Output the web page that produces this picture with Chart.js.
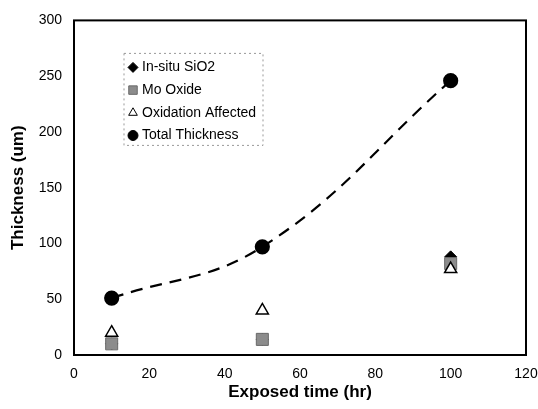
<!DOCTYPE html>
<html>
<head>
<meta charset="utf-8">
<script src="https://cdn.jsdelivr.net/npm/chart.js@4"></script>
<style>
  html, body { margin:0; padding:0; background:#fff; }
  #wrap { width:538px; height:409px; }
</style>
</head>
<body>
<div id="wrap"><canvas id="chart" width="538" height="409"></canvas></div>
<script>
const times = [10, 50, 100];
const insituSiO2 = [10, 14, 88];
const moOxide = [10, 14, 82];
const oxidationAffected = [20, 40, 77];
const totalThickness = [51, 97, 246];
const seriesNames = ["In-situ SiO2", "Mo Oxide", "Oxidation Affected", "Total Thickness"];

const pts = vals => vals.map((v, i) => ({ x: times[i], y: v }));
const FONT = "'Liberation Sans', Arial, sans-serif";

// box round the plot
const frame = {
  id: "frame",
  afterDatasetsDraw(chart){
    const { ctx, chartArea: a } = chart;
    ctx.save();
    ctx.strokeStyle = "#000";
    ctx.lineWidth = 2;
    ctx.strokeRect(a.left, a.top, a.right - a.left, a.bottom - a.top);
    ctx.restore();
  }
};

// legend floating inside the plot
const legendSize = { rectRot: 5, rect: 6, triangle: 5, circle: 5 };
const innerLegend = {
  id: "innerLegend",
  afterDraw(chart){
    const { ctx, chartArea: a } = chart;
    const x0 = a.left + 50, y0 = a.top + 33, w = 139, h = 92;
    ctx.save();
    ctx.strokeStyle = "#999";
    ctx.lineWidth = 1;
    ctx.setLineDash([2, 3]);
    ctx.strokeRect(x0, y0, w, h);
    ctx.setLineDash([]);
    ctx.font = "14px " + FONT;
    ctx.textBaseline = "middle";
    chart.data.datasets.forEach((ds, i) => {
      const y = y0 + 14 + i * 22.7;
      ctx.fillStyle = ds.pointBackgroundColor;
      ctx.strokeStyle = ds.pointBorderColor;
      Chart.helpers.drawPoint(ctx, { pointStyle: ds.pointStyle, radius: legendSize[ds.pointStyle], rotation: 0, borderWidth: 1 }, x0 + 9, y);
      ctx.fillStyle = "#000";
      ctx.fillText(ds.label, x0 + 18, y);
    });
    ctx.restore();
  }
};

new Chart(document.getElementById("chart"), {
  type: "scatter",
  data: {
    datasets: [
      { label: seriesNames[0], data: pts(insituSiO2), order: 4, pointStyle: "rectRot", pointRadius: 6,
        pointBackgroundColor: "#000", pointBorderColor: "#000", borderWidth: 1 },
      { label: seriesNames[1], data: pts(moOxide), order: 3, pointStyle: "rect", pointRadius: 8.5,
        pointBackgroundColor: "#8c8c8c", pointBorderColor: "#6a6a6a", borderWidth: 1 },
      { label: seriesNames[2], data: pts(oxidationAffected), order: 2, pointStyle: "triangle", pointRadius: 7,
        pointBackgroundColor: "#fff", pointBorderColor: "#000", pointBorderWidth: 1.5 },
      { label: seriesNames[3], data: pts(totalThickness), order: 1, pointStyle: "circle", pointRadius: 6.5,
        pointBackgroundColor: "#000", pointBorderColor: "#000",
        showLine: true, borderColor: "#000", borderWidth: 2.2, borderDash: [12, 8], tension: 0.4 }
    ]
  },
  options: {
    responsive: false,
    animation: false,
    layout: { padding: { top: 16, right: 0, left: 0, bottom: 0 } },
    plugins: { legend: { display: false }, tooltip: { enabled: false } },
    scales: {
      x: {
        type: "linear", min: 0, max: 120,
        ticks: { stepSize: 20, padding: 11, color: "#000", font: { family: FONT, size: 14 } },
        grid: { display: false, drawTicks: false },
        border: { display: false },
        title: { display: true, text: "Exposed time (hr)", color: "#000", padding: { top: 0, bottom: 6 },
                 font: { family: FONT, size: 17, weight: "bold" } },
        afterFit: s => { s.height = 54; s.paddingRight = 12; }
      },
      y: {
        min: 0, max: 300,
        ticks: { stepSize: 50, padding: 12, color: "#000", font: { family: FONT, size: 14 } },
        grid: { display: false, drawTicks: false },
        border: { display: false },
        title: { display: true, text: "Thickness (um)", color: "#000", padding: { top: 8, bottom: 0 },
                 font: { family: FONT, size: 17, weight: "bold" } },
        afterFit: s => { s.width = 74; }
      }
    }
  },
  plugins: [frame, innerLegend]
});
</script>
</body>
</html>
